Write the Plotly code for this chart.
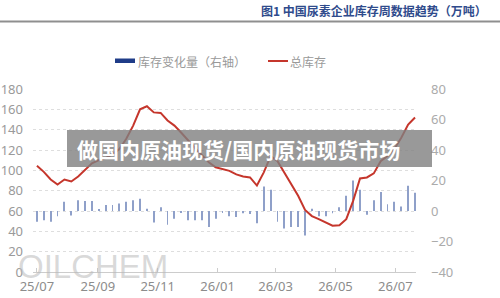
import pandas as pd
import plotly.graph_objects as go

# ---------------- data ----------------
dates = pd.date_range("2025-07-01", periods=56, freq="7D")

total_stock = [104.5, 98.5, 91, 86, 91, 89, 94, 101, 107, 110,
               112, 116, 121, 131, 144, 160, 163, 157, 156.5, 149,
               144, 137, 129, 122, 115, 108, 103, 101, 99.5, 96,
               94, 93, 85, 98, 114, 109, 98, 87, 75, 61,
               55, 52, 48.5, 45.5, 46, 52, 70, 92, 93, 97,
               109, 114, 121, 132, 145, 152]

stock_change = [-7, -6, -7, -3.5, 6, -3, 7, 6.5, 6.5, 1,
                4, 4, 5, 6, 7, 8, 1.5, -7.5, 2.5, -9,
                -5, -1, -6, -6, -6, -10.5, -5, -1, -3.5, -4,
                -1.5, -2, -8, 16, 14, -7, -11.5, -10.5, -10.5, -16,
                1.5, -3.5, -3.5, -1.5, 2.5, 10, 20, 14, -2.5, 7,
                12.5, 4.5, 6, 3, 16.5, 12]

tick_dates = ["2025-07-01", "2025-09-01", "2025-11-01", "2026-01-01",
              "2026-03-01", "2026-05-01", "2026-07-01"]
tick_labels = ["25/07", "25/09", "25/11", "26/01", "26/03", "26/05", "26/07"]

title_text = "图1 中国尿素企业库存周数据趋势（万吨）"
legend_bar = "库存变化量（右轴）"
legend_line = "总库存"
banner_text = "做国内原油现货/国内原油现货市场"
watermark = "OILCHEM"

# ---------------- layout helpers ----------------
W, H = 500, 298
L, R, T, B = 33, 84, 89, 26
PW, PH = W - L - R, H - T - B


def px(x):
    return (x - L) / PW


def py(y):
    return (H - B - y) / PH


RED = "#c5362c"
NAVY = "#1f3c88"
BAR = "#8fa0c9"
CJK = "Noto Sans CJK SC"

fig = go.Figure()

# bars on the primary (right-side) axis
fig.add_trace(go.Bar(
    x=dates, y=stock_change, xaxis="x", yaxis="y",
    width=0.9 * 86400000, marker=dict(color=BAR, line=dict(width=0)),
    showlegend=False, hoverinfo="skip"))

# total stock line on the overlaying left axis (drawn on top)
fig.add_trace(go.Scatter(
    x=dates, y=total_stock, xaxis="x", yaxis="y2", mode="lines",
    line=dict(color=RED, width=2), showlegend=False, hoverinfo="skip"))

fig.update_layout(
    width=W, height=H,
    margin=dict(l=L, r=R, t=T, b=B, pad=0, autoexpand=False),
    paper_bgcolor="white", plot_bgcolor="white",
    showlegend=False,
    xaxis=dict(
        type="date", range=["2025-06-27", "2026-07-22"],
        tickvals=tick_dates, ticktext=tick_labels,
        tickfont=dict(family="Noto Sans", size=13, color="#8c8c8c"),
        showgrid=False, zeroline=False, automargin=False,
        showline=True, linecolor="#cccccc", linewidth=1,
        ticks="inside", ticklen=4, tickcolor="#cccccc",
        ticklabelstandoff=2,
    ),
    yaxis=dict(
        range=[-40, 80], dtick=20, tick0=0, side="right", automargin=False,
        tickfont=dict(family="Noto Sans", size=13, color="#ababab"),
        showgrid=False, zeroline=False, showline=False, ticks="",
        ticklabelstandoff=14,
    ),
    yaxis2=dict(
        range=[0, 180], dtick=20, tick0=0, side="left", overlaying="y",
        automargin=False,
        tickfont=dict(family="Noto Sans", size=13, color="#9a9a9a"),
        showgrid=True, gridcolor="#dedede", griddash="dot", gridwidth=1,
        zeroline=False, showline=False, ticks="",
        ticklabelstandoff=9,
    ),
)

shapes = []
# top separator line
shapes.append(dict(type="line", xref="paper", yref="paper",
                   x0=px(0), x1=px(W), y0=py(21.5), y1=py(21.5),
                   line=dict(color="#8f8f8f", width=2), layer="above"))
# legend marks
shapes.append(dict(type="rect", xref="paper", yref="paper",
                   x0=px(115), x1=px(135), y0=py(63), y1=py(58.5),
                   fillcolor=NAVY, line=dict(width=0), layer="above"))
shapes.append(dict(type="line", xref="paper", yref="paper",
                   x0=px(268), x1=px(288), y0=py(61), y1=py(61),
                   line=dict(color=RED, width=2), layer="above"))
# banner overlay
shapes.append(dict(type="rect", xref="paper", yref="paper",
                   x0=px(67), x1=px(432), y0=py(167), y1=py(130),
                   fillcolor="rgba(128,128,128,0.8)", line=dict(width=0),
                   layer="above"))
fig.update_layout(shapes=shapes)

ann = []
ann.append(dict(text="<b>" + title_text + "</b>", xref="paper", yref="paper",
                x=px(489), y=py(10), xanchor="right", yanchor="middle",
                showarrow=False, font=dict(family=CJK, size=12, color="#2f4b8c")))
ann.append(dict(text=legend_bar, xref="paper", yref="paper",
                x=px(136), y=py(61), xanchor="left", yanchor="middle",
                showarrow=False, font=dict(family=CJK, size=12, color="#999999")))
ann.append(dict(text=legend_line, xref="paper", yref="paper",
                x=px(288), y=py(61), xanchor="left", yanchor="middle",
                showarrow=False, font=dict(family=CJK, size=12, color="#999999")))
ann.append(dict(text="<b>" + banner_text + "</b>", xref="paper", yref="paper",
                x=px(75), y=py(148.5), xanchor="left", yanchor="middle",
                showarrow=False, font=dict(family=CJK, size=21, color="white")))
ann.append(dict(text=watermark, xref="paper", yref="paper",
                x=px(16), y=py(266), xanchor="left", yanchor="middle",
                showarrow=False,
                font=dict(family="Liberation Sans", size=33,
                          color="rgba(185,185,185,0.55)")))
fig.update_layout(annotations=ann)

fig.write_html("out.html")
